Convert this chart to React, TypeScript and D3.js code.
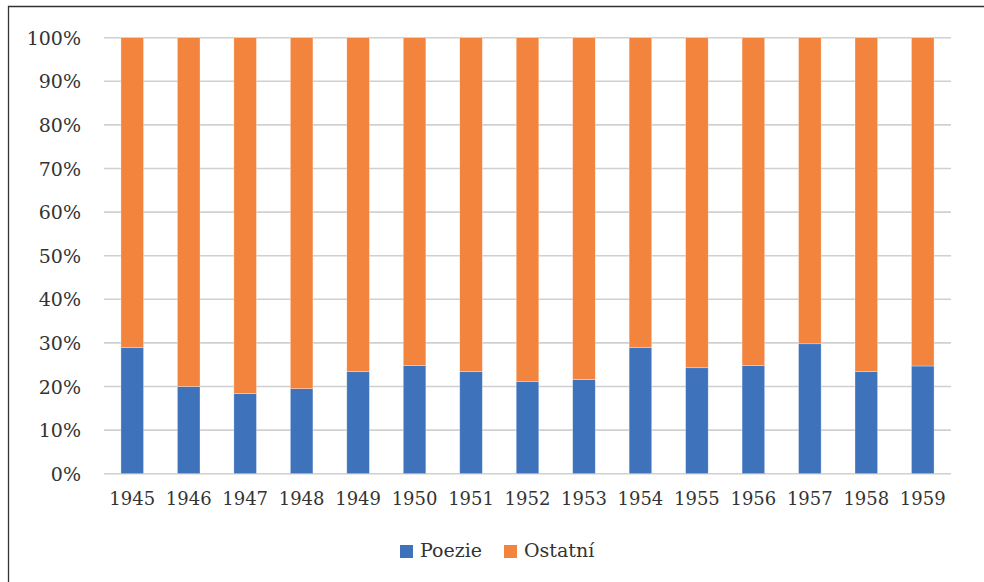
import React, { useRef, useEffect } from "react";
import * as d3 from "d3";

const years = ["1945", "1946", "1947", "1948", "1949", "1950", "1951", "1952", "1953", "1954", "1955", "1956", "1957", "1958", "1959"];
// podíl poezie (0-1), zbytek = ostatní
const poezie = [0.289, 0.2, 0.184, 0.195, 0.234, 0.248, 0.234, 0.211, 0.216, 0.289, 0.243, 0.248, 0.298, 0.234, 0.247];
const ostatni = poezie.map(p => 1 - p);
const seriesNames = ["Poezie", "Ostatní"];
const colors = ["#3E73BC", "#F2843D"];
const yTicks = [0, 0.1, 0.2, 0.3, 0.4, 0.5, 0.6, 0.7, 0.8, 0.9, 1];

const App = () => {
    const svgRef = useRef<SVGSVGElement>(null);

    useEffect(() => {
        const svg = d3.select(svgRef.current);
        svg.selectAll("*").remove();

        const width = 984;
        const height = 582;
        const left = 104, right = 951, top = 37.7, bottom = 473.7;

        // rámeček
        svg.append("path")
            .attr("d", `M8.5,${height} L8.5,6.5 L${width},6.5`)
            .attr("fill", "none")
            .attr("stroke", "#333")
            .attr("stroke-width", 1.3);

        const x = d3.scaleBand().domain(years).range([left, right]).paddingInner(0.6).paddingOuter(0.3);
        const y = d3.scaleLinear().domain([0, 1]).range([bottom, top]);

        // mřížka
        svg.append("g")
            .selectAll("line")
            .data(yTicks)
            .enter()
            .append("line")
            .attr("x1", left)
            .attr("x2", right)
            .attr("y1", d => y(d))
            .attr("y2", d => y(d))
            .attr("stroke", "#D0D0D0")
            .attr("stroke-width", 1.6);

        // popisky osy y
        svg.append("g")
            .selectAll("text")
            .data(yTicks)
            .enter()
            .append("text")
            .attr("x", 81)
            .attr("y", d => y(d) + 7)
            .attr("text-anchor", "end")
            .style("font-family", "DejaVu Serif")
            .style("font-size", "19px")
            .style("fill", "#333")
            .text(d => `${Math.round(d * 100)}%`);

        const table = years.map((yr, i) => ({ year: yr, Poezie: poezie[i], "Ostatní": ostatni[i] }));
        const stack = d3.stack<any>().keys(seriesNames)(table);

        svg.append("g")
            .selectAll("g")
            .data(stack)
            .enter()
            .append("g")
            .attr("fill", (d, i) => colors[i])
            .selectAll("rect")
            .data(d => d)
            .enter()
            .append("rect")
            .attr("x", d => x(d.data.year)!)
            .attr("width", x.bandwidth())
            .attr("y", d => y(d[1]))
            .attr("height", d => y(d[0]) - y(d[1]))
            .attr("stroke", "#fff")
            .attr("stroke-opacity", 0.5)
            .attr("stroke-width", 0.6);

        // popisky osy x
        svg.append("g")
            .selectAll("text")
            .data(years)
            .enter()
            .append("text")
            .attr("x", d => x(d)! + x.bandwidth() / 2)
            .attr("y", 505)
            .attr("text-anchor", "middle")
            .style("font-family", "DejaVu Serif")
            .style("font-size", "18px")
            .style("fill", "#333")
            .text(d => d);

        // legenda
        const legendX = [400, 504];
        const legend = svg.append("g")
            .selectAll("g")
            .data(seriesNames)
            .enter()
            .append("g")
            .attr("transform", (d, i) => `translate(${legendX[i]}, 545)`);
        legend.append("rect")
            .attr("width", 13)
            .attr("height", 13)
            .attr("fill", (d, i) => colors[i]);
        legend.append("text")
            .attr("x", 20)
            .attr("y", 12)
            .style("font-family", "DejaVu Serif")
            .style("font-size", "19px")
            .style("fill", "#333")
            .text(d => d);
    }, []);

    return (
        <svg ref={svgRef} width={984} height={582} style={{ position: "absolute", left: 0, top: 0, background: "#fff" }}></svg>
    );
};

export default App;
